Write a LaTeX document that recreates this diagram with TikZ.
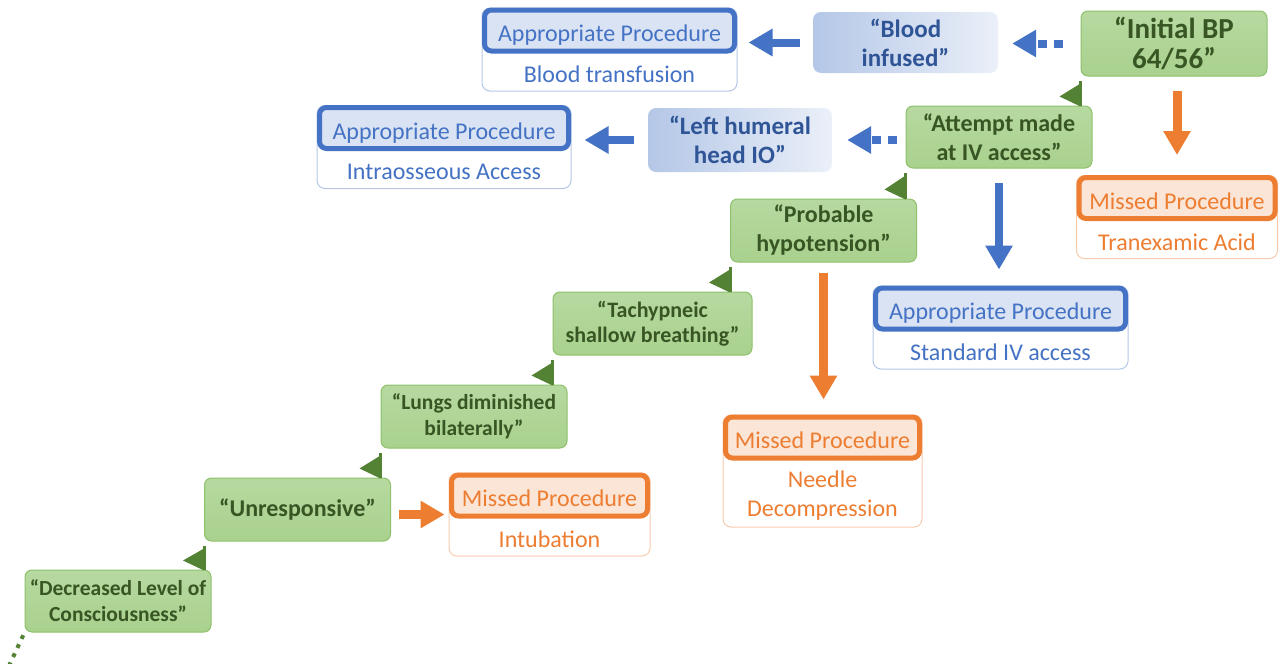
\documentclass[tikz,border=0pt]{standalone}
\usepackage{fontspec}
\setmainfont{Carlito}
\usetikzlibrary{arrows.meta, calc, positioning}

\definecolor{leaf}{HTML}{A9D18E}
\definecolor{leaftop}{HTML}{B6D9A0}
\definecolor{leafline}{HTML}{8DC16B}
\definecolor{leafdark}{HTML}{548235}
\definecolor{leaftext}{HTML}{375623}
\definecolor{sky}{HTML}{4472C4}
\definecolor{skypale}{HTML}{DAE3F3}
\definecolor{skylight}{HTML}{B4C7E7}
\definecolor{skytext}{HTML}{2F5597}
\definecolor{ember}{HTML}{ED7D31}
\definecolor{emberpale}{HTML}{FBE5D6}
\definecolor{emberlight}{HTML}{F8CBAD}

% step up from lower cue (#1) to upper cue (#2)
\newcommand\climb[2]{%
  \draw[leafdark, line width=3pt] (#2.south west |- #1.north) -- ($(#2.south west)+(0,4)$);
  \fill[leafdark] ($(#2.south west)+(0,7)$) -- ($(#2.south west |- #1.north)+(0,1)$)
    -- ($(#2.south west |- #1.north)+(-21,-9)$) -- cycle;}

\begin{document}
\begin{tikzpicture}[x=1pt,y=-1pt,
    cue/.style={rounded corners=7pt, draw=leafline, line width=1pt,
      top color=leaftop, bottom color=leaf, text=leaftext, align=center,
      minimum width=186pt, minimum height=63pt, inner sep=2pt},
    said/.style={rounded corners=8pt, left color=skylight, right color=skypale!55!white,
      text=skytext, align=center, minimum width=185pt, minimum height=62pt, inner sep=2pt,
      font=\fontsize{25}{29}\selectfont\bfseries},
    pass/.style={line width=8pt, -{Triangle[length=24pt,width=26pt]}},
    hint/.style={pass, dash pattern=on 9pt off 7pt}]
  \tikzstyle{apframe}=[rounded corners=8pt, draw=skylight, line width=1pt, fill=white,
    minimum width=255pt, minimum height=83pt, inner sep=0pt]
  \tikzstyle{aptitle}=[rounded corners=7pt, draw=sky, line width=5pt, fill=skypale,
    text=sky, minimum width=250pt, minimum height=41pt, inner sep=0pt, anchor=north,
    text height=22pt, text depth=0pt, font=\fontsize{24}{29}\selectfont]
  \tikzstyle{mpframe}=[apframe, draw=emberlight, minimum width=201pt]
  \tikzstyle{mptitle}=[aptitle, draw=ember, fill=emberpale, text=ember, minimum width=196pt]
  \tikzstyle{aptext}=[text=sky, align=center, inner sep=0pt, yshift=-2pt,
    font=\fontsize{24}{29}\selectfont]
  \tikzstyle{mptext}=[aptext, text=ember]

  \useasboundingbox (0,0) rectangle (1288,664);

  % spoken cues
  \node[cue, minimum height=65pt, font=\fontsize{29}{30}\selectfont\bfseries]
    (initbp) at (1174,43.5) {“Initial BP\\64/56”};
  \node[cue, minimum height=62pt, font=\fontsize{24}{29}\selectfont\bfseries]
    (attempt) at (999,137) {“Attempt made\\at IV access”};
  \node[cue, font=\fontsize{24}{29}\selectfont\bfseries]
    (probable) at (823.5,230.5) {“Probable\\hypotension”};
  \node[cue, minimum width=199pt, font=\fontsize{22}{25}\selectfont\bfseries]
    (tachy) at (652.5,323.5) {“Tachypneic\\shallow breathing”};
  \node[cue, font=\fontsize{21.5}{26}\selectfont\bfseries]
    (lungs) at (474,416.5) {“Lungs diminished\\bilaterally”};
  \node[cue, font=\fontsize{24}{29}\selectfont\bfseries]
    (unresp) at (297.5,509.5) {“Unresponsive”};
  \node[cue, minimum height=62pt, font=\fontsize{21.5}{26}\selectfont\bfseries]
    (decr) at (118,601) {“Decreased Level of\\Consciousness”};

  \node[said, minimum height=61pt] (bloodinf) at (905.5,42.5) {“Blood\\infused”};
  \node[said, minimum width=184pt, minimum height=64pt] (humeral) at (740,140) {“Left humeral\\head IO”};

  % procedures
  \node[apframe] (apBT) at (609.5,49.5) {};
  \node[aptitle] (apBTt) at (apBT.north) {Appropriate Procedure};
  \node[aptext] at ($(apBTt.south)!0.5!(apBT.south)$) {Blood transfusion};

  \node[apframe, minimum width=254pt] (apIO) at (444,147) {};
  \node[aptitle, minimum width=249pt] (apIOt) at (apIO.north) {Appropriate Procedure};
  \node[aptext] at ($(apIOt.south)!0.5!(apIO.south)$) {Intraosseous Access};

  \node[apframe] (apIV) at (1000.5,327.5) {};
  \node[aptitle] (apIVt) at (apIV.north) {Appropriate Procedure};
  \node[aptext] at ($(apIVt.south)!0.5!(apIV.south)$) {Standard IV access};

  \node[mpframe] (mpTA) at (1177,217) {};
  \node[mptitle] (mpTAt) at (mpTA.north) {Missed Procedure};
  \node[mptext] at ($(mpTAt.south)!0.5!(mpTA.south)$) {Tranexamic Acid};

  \node[mpframe, minimum width=199pt, minimum height=112pt] (mpND) at (822.5,471) {};
  \node[mptitle, minimum width=194pt] (mpNDt) at (mpND.north) {Missed Procedure};
  \node[mptext] at ($(mpNDt.south)!0.5!(mpND.south)$) {Needle\\Decompression};

  \node[mpframe] (mpIN) at (549.5,514.5) {};
  \node[mptitle] (mpINt) at (mpIN.north) {Missed Procedure};
  \node[mptext] at ($(mpINt.south)!0.5!(mpIN.south)$) {Intubation};

  % arrows
  \draw[hint, sky, shorten <=18pt, shorten >=14pt] (initbp.west) -- (initbp.west -| bloodinf.east);
  \draw[pass, sky, shorten <=13pt, shorten >=11pt] (bloodinf.west) -- (bloodinf.west -| apBT.east);
  \draw[hint, sky, shorten <=9pt, shorten >=15pt] (humeral.east -| attempt.west) -- (humeral.east);
  \draw[pass, sky, shorten <=14pt, shorten >=13pt] (humeral.west) -- (humeral.west -| apIO.east);
  \draw[pass, sky, shorten <=14pt, shorten >=16pt] (attempt.south) -- (attempt.south |- apIV.north);
  \draw[pass, ember, line width=9pt, shorten <=14pt, shorten >=20pt] (mpTA.north |- initbp.south) -- (mpTA.north);
  \draw[pass, ember, line width=9pt, shorten <=10pt, shorten >=15pt] (probable.south) -- (probable.south |- mpND.north);
  \draw[pass, ember, line width=9pt, shorten <=8pt, shorten >=4pt] (mpIN.west -| unresp.east) -- (mpIN.west);

  % steps between cues
  \climb{attempt}{initbp}
  \climb{probable}{attempt}
  \climb{tachy}{probable}
  \climb{lungs}{tachy}
  \climb{unresp}{lungs}
  \climb{decr}{unresp}

  \coordinate (tail) at (8,668);
  \draw[leafdark, line width=4pt, dash pattern=on 4pt off 6pt, shorten <=3pt] (decr.south west) -- (tail);
\end{tikzpicture}
\end{document}
